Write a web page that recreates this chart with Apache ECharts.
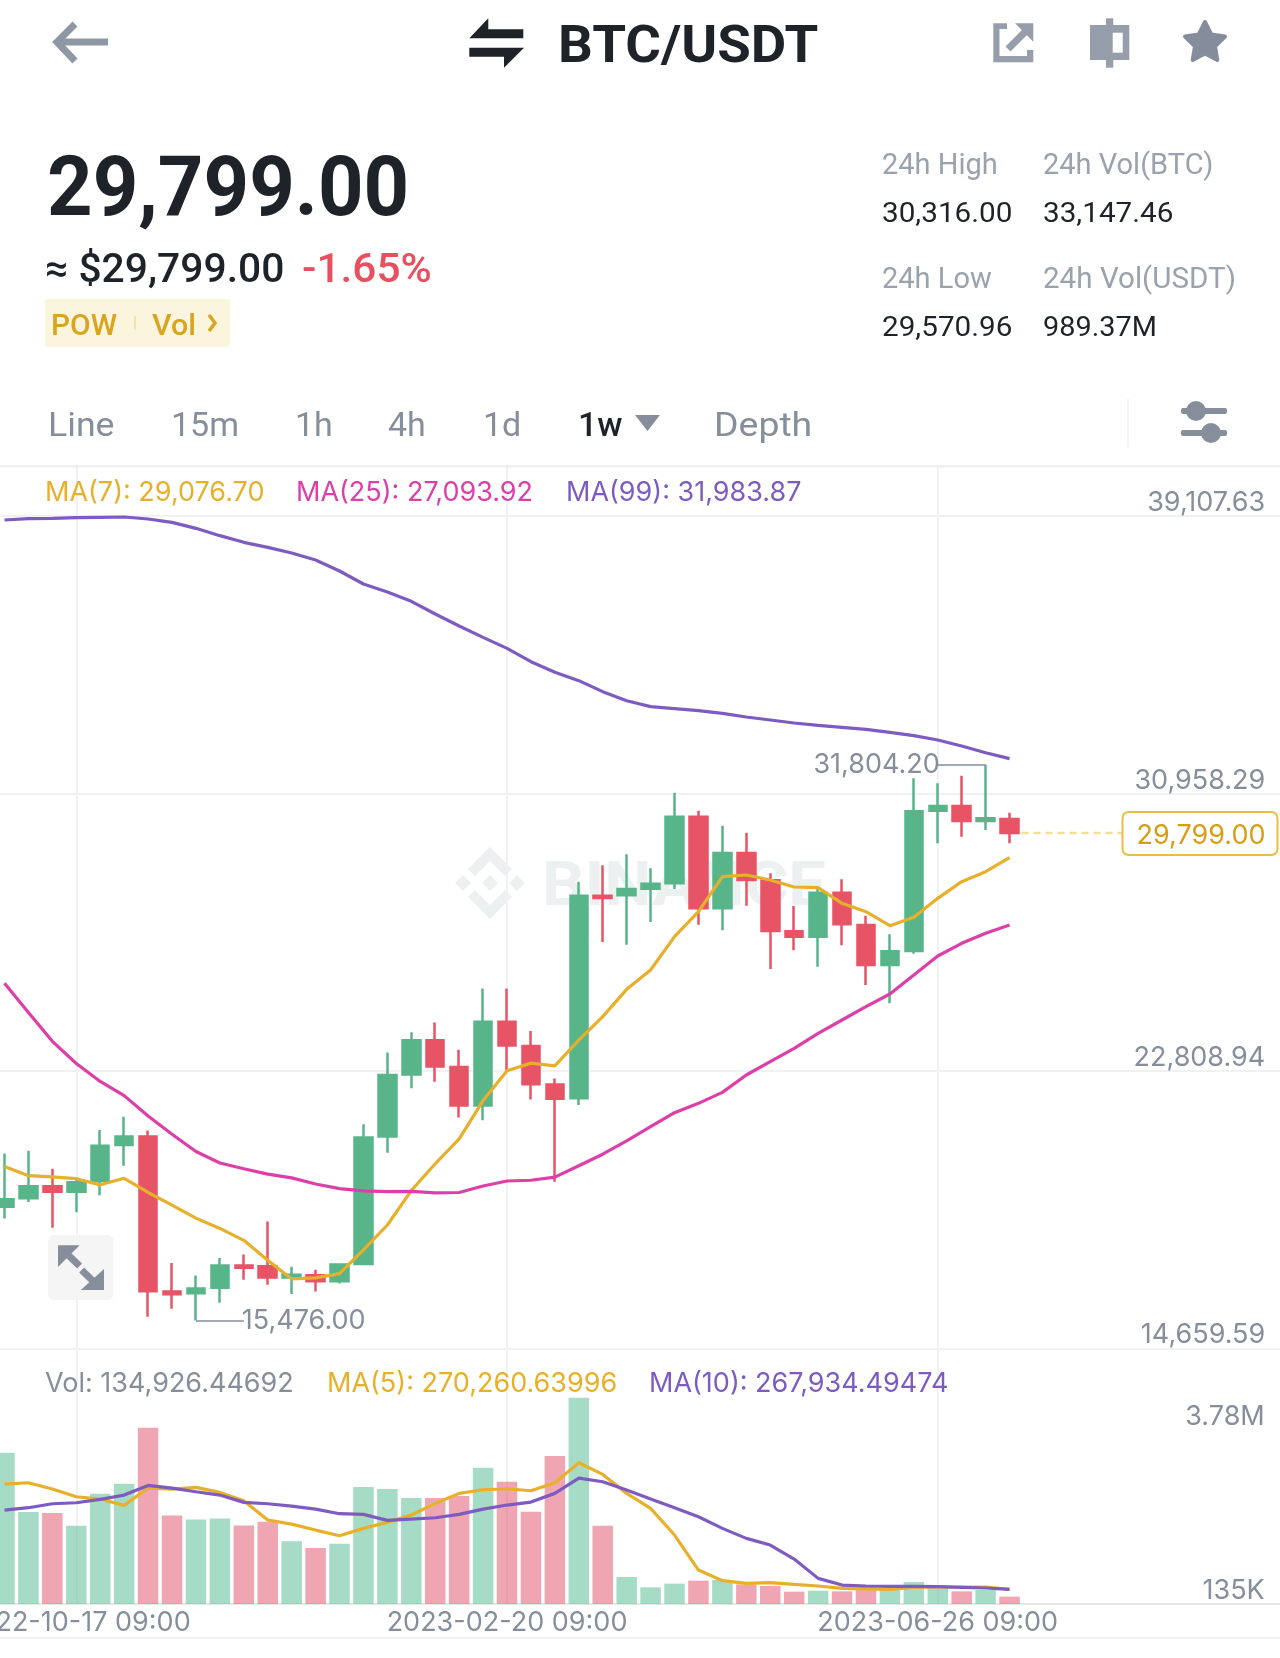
<!DOCTYPE html>
<html>
<head>
<meta charset="utf-8">
<title>BTC/USDT</title>
<script src="https://cdn.jsdelivr.net/npm/echarts@6/dist/echarts.min.js"></script>
<style>
html,body{margin:0;padding:0;background:#fff;}
#container{width:1280px;height:1658px;}
</style>
</head>
<body>
<div id="container"></div>
<script>
var dates = ['2022-09-26 09:00','2022-10-03 09:00','2022-10-10 09:00','2022-10-17 09:00','2022-10-24 09:00','2022-10-31 09:00',
  '2022-11-07 09:00','2022-11-14 09:00','2022-11-21 09:00','2022-11-28 09:00','2022-12-05 09:00','2022-12-12 09:00',
  '2022-12-19 09:00','2022-12-26 09:00','2023-01-02 09:00','2023-01-09 09:00','2023-01-16 09:00','2023-01-23 09:00',
  '2023-01-30 09:00','2023-02-06 09:00','2023-02-13 09:00','2023-02-20 09:00','2023-02-27 09:00','2023-03-06 09:00',
  '2023-03-13 09:00','2023-03-20 09:00','2023-03-27 09:00','2023-04-03 09:00','2023-04-10 09:00','2023-04-17 09:00',
  '2023-04-24 09:00','2023-05-01 09:00','2023-05-08 09:00','2023-05-15 09:00','2023-05-22 09:00','2023-05-29 09:00',
  '2023-06-05 09:00','2023-06-12 09:00','2023-06-19 09:00','2023-06-26 09:00','2023-07-03 09:00','2023-07-10 09:00',
  '2023-07-17 09:00','2023-07-24 09:00','2023-07-31 09:00','2023-08-07 09:00','2023-08-14 09:00','2023-08-21 09:00',
  '2023-08-28 09:00','2023-09-04 09:00','2023-09-11 09:00','2023-09-18 09:00','2023-09-25 09:00','2023-10-02 09:00'];
var dateTicks = ['2022-10-17 09:00','2023-02-20 09:00','2023-06-26 09:00'];

var opens = [18821,19069,19417,19260,19575,20632,20879,16325,16280,16438,17090,17068,16742,16809,16629,17135,20879,22700,23712,22925,21790,24252,23543,22408,22003,27957,27966,28162,28319,30278,27585,29210,28407,26909,26752,28045,27095,25920,26331,30454,30591,30150,30209];
var closes = [19035,19417,19260,19541,20609,20879,16337,16247,16415,17090,17023,16742,16820,16629,17124,20856,22689,23712,22936,21790,24252,23555,22419,21992,27957,27888,28153,28309,30278,27585,29210,28417,26919,26752,28045,27114,25920,26321,30434,30591,30150,30229,29799];
var lows = [18473,18956,18203,18653,19159,20024,15583,15820,15476,15999,16674,16528,16258,16325,16562,17112,20407,22296,22487,21441,21362,22813,21969,19552,21807,26595,26517,27183,28153,27105,26938,27663,25802,26351,25871,26497,25332,24794,26253,29494,29690,29886,29494];
var highs = [20384,20463,19934,19687,21070,21464,21059,17169,16798,17315,17416,18383,17056,16966,17157,21239,23352,23948,24229,23431,25230,25230,23982,22588,28368,28848,29171,28760,30983,30454,30013,29808,28613,27653,28221,28437,27369,26821,31404,31257,31482,31804.2,30395];

var ma7 = [20002,19732,19698,19642,19462,19653,19237,18866,18484,18181,17832,17247,16697,16730,16854,17551,18282,19294,20081,20811,21936,22813,23038,22959,23716,24402,25205,25773,26752,27487,28515,28564,28417,28211,28192,27731,27487,27075,27320,27878,28368,28662,29076.7];
var ma25 = [25387,24522,23678,23026,22498,22082,21486,20946,20440,20103,19934,19777,19665,19485,19350,19282,19260,19271,19226,19237,19429,19575,19597,19687,20024,20362,20755,21170,21582,21856,22179,22688,23080,23471,23912,24304,24696,25068,25626,26184,26556,26850,27093.92];
var ma99 = [38993,39032,39042,39062,39071,39081,39022,38924,38748,38533,38337,38190,38024,37818,37495,37113,36878,36604,36231,35879,35546,35223,34831,34518,34273,33950,33685,33509,33450,33391,33313,33205,33117,33029,32961,32902,32843,32755,32657,32530,32353,32157,31983.87];
var lastPrice = [,,,,,,,,,,,,,,,,,,,,,,,,,,,,,,,,,,,,,,,,,,29799,29799,29799,29799,29799,29799];

var volumes = [2774000,1686000,1668000,1436000,2022000,2206000,3232000,1625000,1552000,1570000,1442000,1509000,1149000,1026000,1106000,2145000,2108000,1943000,1943000,1980000,2499000,2242000,1692000,2713000,3782000,1436000,495000,306000,373000,428000,440000,360000,330000,226000,244000,232000,330000,287000,403000,306000,232000,257000,134926];
var volMa5 = [2200000,2224000,2108000,1967000,1925000,1809000,2126000,2108000,2139000,2047000,1894000,1540000,1466000,1356000,1253000,1387000,1497000,1631000,1845000,2029000,2096000,2114000,2077000,2224000,2591000,2377000,2029000,1754000,1265000,623000,428000,379000,391000,360000,330000,287000,275000,269000,306000,312000,312000,312000,270261];
var volMa10 = [1723000,1766000,1839000,1857000,1919000,1998000,2175000,2126000,2059000,1998000,1864000,1839000,1796000,1741000,1656000,1644000,1534000,1558000,1582000,1644000,1741000,1815000,1870000,2029000,2310000,2242000,2090000,1925000,1766000,1601000,1387000,1204000,1081000,825000,470000,348000,330000,324000,324000,318000,306000,293000,267934];

var priceTicks = [14659.59, 22808.94, 30958.29, 39107.63];
var volTicks = [134926, 3782000];

var UP = '#58b589', DOWN = '#e65466', GRAY = '#868e9c', DARK = '#1e2329', LIGHT = '#f0f1f3';
var YELLOW = '#e8b02a', PINK = '#dd3fa9', PURPLE = '#7d5bc0', GOLD = '#d9a41f';
var LABEL_FONT = 'Inter';
var UI_FONT = 'Roboto';

var dom = document.getElementById('container');
var myChart = echarts.init(dom);

var candles = [];
for (var i = 0; i < opens.length; i++) {
  candles.push([opens[i], closes[i], lows[i], highs[i]]);
}

function isDateTick(index, value) {
  return dateTicks.indexOf(value) >= 0;
}

// sx / sy stretch the text a bit, the app font is narrower and taller than Roboto
function txt(text, x, y, size, color, weight, family, sx, sy) {
  var fam = family || UI_FONT;
  return {
    type: 'text', z: 20, x: x, y: y + size * (fam == UI_FONT ? 0.12 : 0.05), scaleX: sx || 1, scaleY: sy || 1,
    style: {
      text: text, fill: color, font: (weight || 400) + ' ' + size + 'px ' + fam,
      verticalAlign: 'middle', align: 'left'
    }
  };
}
function poly(points, color) {
  return { type: 'polygon', z: 20, shape: { points: points }, style: { fill: color } };
}
function bar(x, y, w, h, color, r) {
  return { type: 'rect', z: 20, shape: { x: x, y: y, width: w, height: h, r: r || 0 }, style: { fill: color } };
}
function seg(x1, y1, x2, y2, color, w) {
  return { type: 'line', z: 20, shape: { x1: x1, y1: y1, x2: x2, y2: y2 }, style: { stroke: color, lineWidth: w } };
}
function dot(x, y, r, color) {
  return { type: 'circle', z: 20, shape: { cx: x, cy: y, r: r }, style: { fill: color } };
}

var WM = '#edf0f0';
var graphics = [
  // top bar
  { type: 'polyline', z: 20, shape: { points: [[75, 24], [57, 42], [75, 61]] }, style: { stroke: '#8f97a5', lineWidth: 7, fill: null } },
  seg(60, 42, 108, 42, '#8f97a5', 7),
  poly([[469.3, 38.3], [488.3, 18.3], [488.3, 29.3], [523.3, 29.3], [523.3, 38.3]], DARK),
  poly([[469.3, 47.7], [524, 47.7], [504, 67.7], [504, 56.7], [469.3, 56.7]], DARK),
  txt('BTC/USDT', 558, 43, 52, DARK, 700, null, 1.05),
  // share icon
  poly([[993.3, 23.3], [1007, 23.3], [1007, 29], [999.5, 29], [999.5, 56], [1027, 56], [1027, 50], [1033.3, 50], [1033.3, 62.3], [993.3, 62.3]], '#969dab'),
  poly([[1015, 23.3], [1033.3, 23.3], [1033.3, 41.7]], '#969dab'),
  seg(1008, 49, 1027, 30, '#969dab', 7),
  // candle icon
  bar(1106, 18.3, 7.3, 49.4, '#969dab'),
  bar(1090, 25, 39.3, 35, '#969dab'),
  bar(1112.7, 32.7, 10, 20, '#fff'),
  // star
  { type: 'polygon', z: 20, shape: { points: [[1205, 22], [1211.2, 34.5], [1225, 36.5], [1215, 46.2], [1217.3, 60], [1205, 53.5], [1192.7, 60], [1195, 46.2], [1185, 36.5], [1198.8, 34.5]] },
    style: { fill: '#858d9d', stroke: '#858d9d', lineWidth: 4, lineJoin: 'round' } },

  // price block
  txt('29,799.00', 47, 185, 78, DARK, 700, null, 1.02, 1.08),
  txt('≈ $29,799.00', 45, 267, 40, DARK, 500, null, 1.02),
  txt('-1.65%', 302, 267, 40, '#e9505f', 500, null, 1.06),
  bar(45, 299, 185, 48, '#fcf5de', 3),
  txt('POW', 51, 324, 29, GOLD, 500, null, 1.03),
  bar(134, 316, 2, 14, '#f2e3b5'),
  txt('Vol', 152, 324, 29, GOLD, 500, null, 1.05),
  { type: 'polyline', z: 20, shape: { points: [[209, 315], [215, 323], [209, 331]] }, style: { stroke: GOLD, lineWidth: 3.5, fill: null } },

  // 24h stats
  txt('24h High', 882, 163, 29, '#9aa2ae'),
  txt('24h Vol(BTC)', 1043, 163, 29, '#9aa2ae'),
  txt('30,316.00', 882, 212, 28, DARK, 400, null, 1.06),
  txt('33,147.46', 1043, 212, 28, DARK, 400, null, 1.06),
  txt('24h Low', 882, 277, 29, '#9aa2ae'),
  txt('24h Vol(USDT)', 1043, 277, 29, '#9aa2ae', 400, null, 1.02),
  txt('29,570.96', 882, 326, 28, DARK, 400, null, 1.06),
  txt('989.37M', 1043, 326, 28, DARK, 400, null, 1.03),

  // interval tabs
  txt('Line', 48, 423, 34, GRAY, 400, null, 1.05),
  txt('15m', 171, 423, 34, GRAY),
  txt('1h', 295, 423, 34, GRAY),
  txt('4h', 388, 423, 34, GRAY),
  txt('1d', 483, 423, 34, GRAY),
  txt('1w', 578, 423, 34, DARK, 500),
  poly([[635, 415], [660, 415], [647.5, 431]], GRAY),
  txt('Depth', 714, 423, 34, GRAY, 400, null, 1.1),
  bar(1127, 399, 2, 48, '#f2f3f4'),
  bar(1181, 408, 46, 6, GRAY, 2),
  dot(1196, 411, 10, GRAY),
  bar(1181, 430, 46, 6, GRAY, 2),
  dot(1211, 433, 10, GRAY),
  bar(0, 465, 1280, 2.5, '#eff0f2'),

  // legends
  txt('MA(7): 29,076.70', 45, 492, 27, YELLOW, 400, LABEL_FONT),
  txt('MA(25): 27,093.92', 296, 492, 27, PINK, 400, LABEL_FONT),
  txt('MA(99): 31,983.87', 566, 492, 27, PURPLE, 400, LABEL_FONT),
  txt('Vol: 134,926.44692', 45, 1383, 27, GRAY, 400, LABEL_FONT),
  txt('MA(5): 270,260.63996', 327, 1383, 27, YELLOW, 400, LABEL_FONT),
  txt('MA(10): 267,934.49474', 649, 1383, 27, PURPLE, 400, LABEL_FONT),

  // expand button
  bar(48, 1235, 65.5, 65, '#f5f5f6', 6),
  poly([[58, 1245.3], [79.6, 1245.3], [58, 1267]], GRAY),
  seg(65, 1252, 79.6, 1266, GRAY, 7),
  poly([[104, 1269], [104, 1290], [80.8, 1290]], GRAY),
  seg(81.6, 1270, 96, 1284, GRAY, 7),

  // last price box
  { type: 'rect', z: 30, shape: { x: 1122.5, y: 812, width: 155, height: 43, r: 6 }, style: { fill: '#fff', stroke: '#e9bd45', lineWidth: 2 } },
  { type: 'text', z: 31, x: 1201, y: 835.5, style: { text: '29,799.00', fill: '#d69e13', font: '400 27px ' + LABEL_FONT, align: 'center', verticalAlign: 'middle' } },
  bar(0, 1637, 1280, 2, '#f0f1f2'),

  // watermark
  { type: 'polygon', z: 0, shape: { points: [[490, 875], [498, 883], [490, 891], [482, 883]] }, style: { fill: WM } },
  { type: 'polygon', z: 0, shape: { points: [[463, 875], [471, 883], [463, 891], [455, 883]] }, style: { fill: WM } },
  { type: 'polygon', z: 0, shape: { points: [[517, 875], [525, 883], [517, 891], [509, 883]] }, style: { fill: WM } },
  { type: 'polygon', z: 0, shape: { points: [[490, 847], [512, 869], [505, 876], [490, 861], [475, 876], [468, 869]] }, style: { fill: WM } },
  { type: 'polygon', z: 0, shape: { points: [[490, 919], [512, 897], [505, 890], [490, 905], [475, 890], [468, 897]] }, style: { fill: WM } },
  { type: 'text', z: 0, x: 542, y: 889, style: { text: 'BINANCE', fill: WM, font: '700 62px Roboto', verticalAlign: 'middle' }, scaleX: 1.08 }
];

function lineSeries(name, data, color, xIdx, yIdx) {
  return {
    name: name, type: 'line', data: data, xAxisIndex: xIdx, yAxisIndex: yIdx, z: 5,
    showSymbol: false, symbol: 'none', silent: true, clip: false,
    lineStyle: { color: color, width: 3.2 }
  };
}

function extremeLine(from, to, value, text) {
  return [{ coord: [dates[from], value], label: { formatter: text } }, { coord: [dates[to], value] }];
}

option = {
  animation: false,
  backgroundColor: '#fff',
  textStyle: { fontFamily: LABEL_FONT },
  graphic: { elements: graphics },
  grid: [
    { left: -7.46, top: 467, width: 1292.2, height: 881.3, outerBoundsMode: 'none' },
    { left: -7.46, top: 1348.3, width: 1292.2, height: 255.7, outerBoundsMode: 'none' }
  ],
  xAxis: [
    { type: 'category', gridIndex: 0, data: dates, boundaryGap: true,
      axisLine: { show: false }, axisTick: { show: false }, axisLabel: { show: false },
      splitLine: { show: true, interval: isDateTick, alignWithLabel: true, lineStyle: { color: LIGHT, width: 2 } } },
    { type: 'category', gridIndex: 1, data: dates, boundaryGap: true,
      axisLine: { show: true, lineStyle: { color: '#e6e7e9', width: 2 } }, axisTick: { show: false },
      axisLabel: { show: true, interval: isDateTick, color: GRAY, fontSize: 27, fontFamily: LABEL_FONT, margin: 5, hideOverlap: false },
      splitLine: { show: true, interval: isDateTick, alignWithLabel: true, lineStyle: { color: LIGHT, width: 2 } } }
  ],
  yAxis: [
    { type: 'value', gridIndex: 0, position: 'right', min: 14659.59, max: 40550, scale: true,
      axisLine: { show: false },
      axisTick: { show: false, customValues: priceTicks },
      splitLine: { show: true, lineStyle: { color: LIGHT, width: 2 } },
      axisLabel: { inside: true, customValues: priceTicks, margin: 19.5, color: GRAY, fontSize: 27, fontFamily: LABEL_FONT,
        verticalAlign: 'bottom', lineHeight: 26,
        formatter: function (v) { return v.toLocaleString('en-US', { minimumFractionDigits: 2, maximumFractionDigits: 2 }); } } },
    { type: 'value', gridIndex: 1, position: 'right', min: 0, max: 4690000,
      axisLine: { show: false }, axisTick: { show: false, customValues: volTicks }, splitLine: { show: false },
      axisLabel: { inside: true, customValues: volTicks, margin: 20, color: GRAY, fontSize: 27, fontFamily: LABEL_FONT,
        formatter: function (v) { return v >= 1e6 ? '{top|' + (v / 1e6).toFixed(2) + 'M}' : '{low|' + Math.round(v / 1e3) + 'K}'; },
        rich: {
          top: { color: GRAY, fontSize: 27, fontFamily: LABEL_FONT, padding: [38, 0, 0, 0] },
          low: { color: GRAY, fontSize: 27, fontFamily: LABEL_FONT, padding: [0, 0, 11, 0] }
        } } }
  ],
  series: [
    { name: 'last', type: 'line', data: lastPrice, xAxisIndex: 0, yAxisIndex: 0, z: 1, showSymbol: false, symbol: 'none', silent: true,
      lineStyle: { color: '#f4dc9b', width: 2.5, type: [7, 5] } },
    { name: 'kline', type: 'candlestick', data: candles, xAxisIndex: 0, yAxisIndex: 0, z: 3, barWidth: 18, clip: false, silent: true,
      itemStyle: { color: UP, color0: DOWN, borderColor: UP, borderColor0: DOWN, borderWidth: 2.5 },
      markLine: {
        silent: true, symbol: 'none', animation: false,
        lineStyle: { color: GRAY, width: 1.5, type: 'solid' },
        label: { show: true, position: 'end', color: GRAY, fontSize: 27, fontFamily: LABEL_FONT, distance: -2 },
        data: [extremeLine(41, 39, 31804.2, '31,804.20'), extremeLine(8, 10, 15476, '15,476.00')]
      } },
    lineSeries('MA7', ma7, YELLOW, 0, 0),
    lineSeries('MA25', ma25, PINK, 0, 0),
    lineSeries('MA99', ma99, PURPLE, 0, 0),
    { name: 'Vol', type: 'bar', data: volumes, xAxisIndex: 1, yAxisIndex: 1, barWidth: 20.5, z: 3, silent: true, clip: false,
      itemStyle: { opacity: 0.55, color: function (p) { return closes[p.dataIndex] >= opens[p.dataIndex] ? '#5cc097' : '#e35c72'; } } },
    lineSeries('VolMA5', volMa5, YELLOW, 1, 1),
    lineSeries('VolMA10', volMa10, PURPLE, 1, 1)
  ]
};
myChart.setOption(option, true);
</script>
</body>
</html>
